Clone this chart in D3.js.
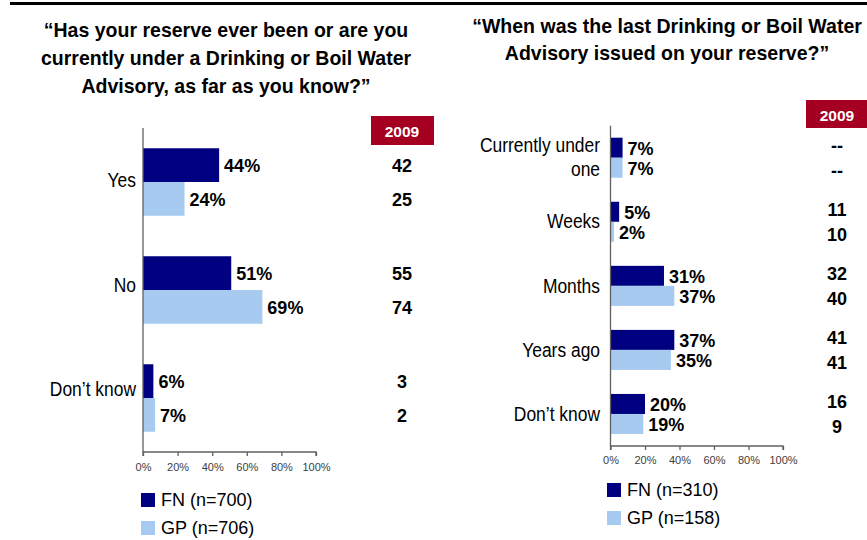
<!DOCTYPE html>
<html>
<head>
<meta charset="utf-8">
<script src="https://cdn.jsdelivr.net/npm/d3@7"></script>
<style>
  html, body { margin: 0; padding: 0; background: #fff; }
  svg { display: block; font-family: "Liberation Sans", Arial, sans-serif; }
</style>
</head>
<body>
<svg id="chart" width="867" height="540"></svg>
<script>
// ---- Data -------------------------------------------------------------
const ticks = [0, 20, 40, 60, 80, 100];

const leftTitle = ["“Has your reserve ever been or are you",
                   "currently under a Drinking or Boil Water",
                   "Advisory, as far as you know?”"];
const leftCategories = [["Yes"], ["No"], ["Don’t know"]];
const leftFN = [44, 51, 6];
const leftGP = [24, 69, 7];
const left2009FN = [42, 55, 3];
const left2009GP = [25, 74, 2];
const leftLegend = ["FN (n=700)", "GP (n=706)"];

const rightTitle = ["“When was the last Drinking or Boil Water",
                    "Advisory issued on your reserve?”"];
const rightCategories = [["Currently under", "one"], ["Weeks"], ["Months"], ["Years ago"], ["Don’t know"]];
const rightFN = [7, 5, 31, 37, 20];
const rightGP = [7, 2, 37, 35, 19];
const right2009FN = [null, 11, 32, 41, 16];
const right2009GP = [null, 10, 40, 41, 9];
const rightLegend = ["FN (n=310)", "GP (n=158)"];

const yearLabel = "2009";

// ---- Style ------------------------------------------------------------
const FN_COLOR = "#000080";
const GP_COLOR = "#a6caf0";
const YEAR_BG = "#a50021";
const AXIS_COLOR = "#606060";

const svg = d3.select("#chart");

// Rule across the top of the page
svg.append("line")
  .attr("x1", 10).attr("x2", 867)
  .attr("y1", 3.5).attr("y2", 3.5)
  .attr("stroke", "#000").attr("stroke-width", 3);

function drawPanel(p) {
  const g = svg.append("g");

  // Title (condensed bold, centred)
  p.title.forEach((line, i) => {
    g.append("text")
      .attr("transform", `translate(${p.titleX},${p.titleY + i * p.titleStep}) scale(0.93,1)`)
      .attr("text-anchor", "middle")
      .attr("font-weight", "bold")
      .attr("font-size", 21)
      .attr("fill", "#000")
      .text(line);
  });

  const x = d3.scaleLinear().domain([0, 100]).range([p.x0, p.x1]);
  const y = d3.scaleBand()
    .domain(d3.range(p.categories.length))
    .range([p.yTop, p.yBottom])
    .paddingInner(0.375)
    .paddingOuter(0.1875);
  const half = y.bandwidth() / 2;

  // Category label positions along the vertical axis
  const yLab = d3.scalePoint()
    .domain(d3.range(p.categories.length))
    .range(p.catRange);

  const rows = p.categories.map((c, i) => ({
    i, label: c, fn: p.fn[i], gp: p.gp[i], fnPrev: p.prevFN[i], gpPrev: p.prevGP[i]
  }));

  // Bars
  const bars = [];
  rows.forEach(r => {
    bars.push({ i: r.i, v: r.fn, off: 0, color: FN_COLOR });
    bars.push({ i: r.i, v: r.gp, off: half, color: GP_COLOR });
  });
  g.selectAll("rect.bar").data(bars).join("rect")
    .attr("class", "bar")
    .attr("x", x(0))
    .attr("y", d => y(d.i) + d.off)
    .attr("width", d => x(d.v) - x(0))
    .attr("height", half)
    .attr("fill", d => d.color);

  // Value labels
  g.selectAll("text.val").data(bars).join("text")
    .attr("class", "val")
    .attr("x", d => x(d.v) + 5)
    .attr("y", d => y(d.i) + d.off + half / 2 + 1)
    .attr("dominant-baseline", "central")
    .attr("font-weight", "bold")
    .attr("font-size", 18)
    .attr("fill", "#000")
    .text(d => d.v + "%");

  // Category labels (condensed)
  rows.forEach(r => {
    const cy = yLab(r.i);
    const n = r.label.length;
    r.label.forEach((line, k) => {
      g.append("text")
        .attr("transform", `translate(${p.catX},${cy + (k - (n - 1) / 2) * p.catStep}) scale(0.83,1)`)
        .attr("text-anchor", "end")
        .attr("dominant-baseline", "central")
        .attr("font-size", 21)
        .attr("fill", "#000")
        .text(line);
    });
  });

  // Axes
  const xAxis = d3.axisBottom(x)
    .tickValues(ticks)
    .tickSize(4)
    .tickFormat(d => d + "%");
  const ax = g.append("g")
    .attr("transform", `translate(0,${p.yBottom})`)
    .call(xAxis);
  ax.select(".domain").attr("stroke", AXIS_COLOR).attr("stroke-width", 1.3)
    .attr("d", `M${p.x0},4V0H${p.x1}V4`);
  ax.selectAll(".tick line").attr("stroke", AXIS_COLOR).attr("stroke-width", 1.3);
  ax.selectAll(".tick text")
    .attr("font-family", "'Liberation Sans', Arial, sans-serif")
    .attr("font-size", 11)
    .attr("fill", "#404040")
    .attr("dy", p.tickDy);

  g.append("line")
    .attr("x1", x(0)).attr("x2", x(0))
    .attr("y1", p.yTop).attr("y2", p.yBottom)
    .attr("stroke", AXIS_COLOR).attr("stroke-width", 1.3);

  // 2009 comparison column
  g.append("rect")
    .attr("x", p.yearBox[0]).attr("y", p.yearBox[1])
    .attr("width", p.yearBox[2]).attr("height", p.yearBox[3])
    .attr("fill", YEAR_BG);
  g.append("text")
    .attr("x", p.yearX)
    .attr("y", p.yearBox[1] + p.yearBox[3] / 2 + 1)
    .attr("text-anchor", "middle")
    .attr("dominant-baseline", "central")
    .attr("font-weight", "bold")
    .attr("font-size", 15.5)
    .attr("fill", "#fff")
    .text(yearLabel);

  const prev = [];
  rows.forEach(r => {
    const c = y(r.i) + half;
    prev.push({ v: r.fnPrev, y: c - p.prevGap });
    prev.push({ v: r.gpPrev, y: c + p.prevGap });
  });
  g.selectAll("text.prev").data(prev).join("text")
    .attr("class", "prev")
    .attr("x", p.yearX)
    .attr("y", d => d.y + 1)
    .attr("text-anchor", "middle")
    .attr("dominant-baseline", "central")
    .attr("font-weight", "bold")
    .attr("font-size", 18)
    .attr("fill", "#000")
    .text(d => d.v == null ? "--" : d.v);

  // Legend
  const lg = g.append("g");
  p.legend.forEach((t, k) => {
    const ly = p.legendY + k * p.legendStep;
    lg.append("rect")
      .attr("x", p.legendX).attr("y", ly)
      .attr("width", 14).attr("height", 14)
      .attr("fill", k === 0 ? FN_COLOR : GP_COLOR);
    lg.append("text")
      .attr("x", p.legendX + 20)
      .attr("y", ly + 7)
      .attr("dominant-baseline", "central")
      .attr("font-size", 18)
      .attr("fill", "#000")
      .text(t);
  });
}

drawPanel({
  title: leftTitle, titleX: 226, titleY: 37, titleStep: 27.8,
  categories: leftCategories, fn: leftFN, gp: leftGP,
  prevFN: left2009FN, prevGP: left2009GP,
  x0: 143, x1: 316, yTop: 128, yBottom: 452,
  catX: 136, catStep: 24, catRange: [180, 389], tickDy: "1.1em",
  yearBox: [371, 116, 63, 29], yearX: 402, prevGap: 16.8,
  legend: leftLegend, legendX: 141, legendY: 493, legendStep: 28
});

drawPanel({
  title: rightTitle, titleX: 667, titleY: 33, titleStep: 27,
  categories: rightCategories, fn: rightFN, gp: rightGP,
  prevFN: right2009FN, prevGP: right2009GP,
  x0: 610.5, x1: 783, yTop: 125.7, yBottom: 446,
  catX: 600, catStep: 24.5, catRange: [157, 414], tickDy: "1.0em",
  yearBox: [806, 100, 61, 28], yearX: 837, prevGap: 12.5,
  legend: rightLegend, legendX: 607, legendY: 483, legendStep: 28
});
</script>
</body>
</html>
